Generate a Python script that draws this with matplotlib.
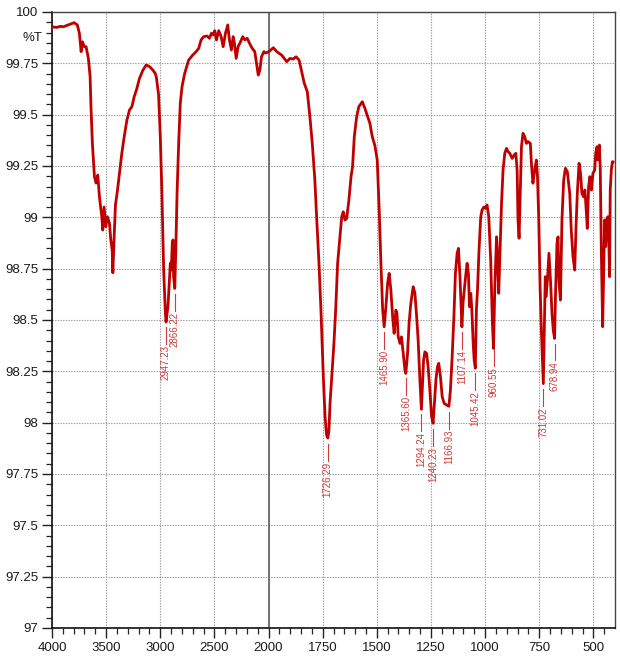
import numpy as np
import matplotlib
matplotlib.use("Agg")
import matplotlib.pyplot as plt
import matplotlib.transforms as mtransforms
from matplotlib.ticker import FixedLocator, FixedFormatter

# ---------------- data ----------------
wavenumber = [
    4000, 3956, 3925, 3895, 3860, 3833, 3796, 3766, 3747, 3731, 3719, 3701, 3685, 3664,
    3648, 3639, 3627, 3608, 3593, 3577, 3562, 3540, 3531, 3519, 3503, 3488, 3469, 3457,
    3444, 3438, 3426, 3414, 3395, 3377, 3355, 3333, 3308, 3284, 3262, 3241, 3216, 3192,
    3160, 3130, 3099, 3068, 3046, 3037, 3016, 3000, 2984, 2969, 2954, 2947, 2929, 2917,
    2907, 2898, 2889, 2882, 2877, 2866, 2855, 2845, 2830, 2815, 2799, 2775, 2738, 2701,
    2669, 2645, 2623, 2599, 2568, 2546, 2528, 2512, 2497, 2481, 2460, 2438, 2419, 2398,
    2377, 2361, 2343, 2327, 2315, 2299, 2281, 2259, 2238, 2219, 2197, 2176, 2151, 2127,
    2111, 2095, 2080, 2065, 2043, 2028, 1998, 1978, 1962, 1939, 1916, 1901, 1886, 1873,
    1859, 1847, 1835, 1821, 1809, 1798, 1786, 1778, 1767, 1758, 1747, 1739, 1732, 1726,
    1721, 1716, 1708, 1698, 1690, 1681, 1670, 1662, 1655, 1647, 1639, 1629, 1619, 1612,
    1604, 1593, 1583, 1567, 1555, 1542, 1532, 1521, 1509, 1498, 1489, 1481, 1473, 1466,
    1458, 1450, 1443, 1435, 1427, 1420, 1412, 1407, 1401, 1393, 1386, 1378, 1370, 1366,
    1358, 1351, 1343, 1332, 1324, 1316, 1309, 1301, 1294, 1290, 1284, 1278, 1270, 1263,
    1255, 1247, 1240, 1235, 1227, 1220, 1214, 1206, 1198, 1189, 1178, 1167, 1160, 1152,
    1144, 1137, 1129, 1123, 1116, 1107, 1102, 1096, 1090, 1083, 1077, 1072, 1066, 1061,
    1055, 1050, 1045, 1040, 1035, 1028, 1020, 1014, 1006, 998, 991, 983, 974, 966,
    961, 955, 947, 943, 937, 931, 924, 917, 909, 901, 894, 886, 875, 866,
    858, 852, 848, 843, 839, 832, 825, 817, 809, 802, 791, 786, 779, 771,
    763, 758, 752, 746, 740, 735, 731, 727, 722, 719, 712, 705, 698, 691,
    685, 679, 675, 668, 663, 659, 652, 645, 637, 629, 620, 609, 602, 594,
    586, 580, 574, 566, 559, 553, 545, 539, 532, 528, 522, 516, 509, 502,
    494, 489, 483, 479, 472, 468, 463, 457, 452, 448, 443, 439, 433, 428,
    425, 422, 417, 412, 409,
]
transmittance = [
    99.928, 99.925, 99.930, 99.928, 99.935, 99.940, 99.948, 99.937, 99.896, 99.807, 99.855, 99.831, 99.831, 99.774,
    99.685, 99.523, 99.360, 99.198, 99.167, 99.206, 99.100, 99.003, 98.938, 99.050, 98.954, 99.003, 98.970, 98.890,
    98.840, 98.730, 98.905, 99.060, 99.133, 99.214, 99.312, 99.393, 99.474, 99.523, 99.539, 99.587, 99.628, 99.677,
    99.717, 99.742, 99.734, 99.717, 99.700, 99.685, 99.600, 99.400, 99.100, 98.750, 98.548, 98.490, 98.565, 98.680,
    98.777, 98.743, 98.874, 98.890, 98.711, 98.654, 98.874, 99.117, 99.360, 99.556, 99.636, 99.700, 99.766, 99.790,
    99.807, 99.823, 99.864, 99.880, 99.883, 99.872, 99.896, 99.888, 99.909, 99.864, 99.909, 99.880, 99.831, 99.896,
    99.937, 99.864, 99.815, 99.880, 99.848, 99.774, 99.831, 99.855, 99.880, 99.864, 99.872, 99.848, 99.823, 99.807,
    99.750, 99.693, 99.717, 99.782, 99.807, 99.800, 99.807, 99.826, 99.807, 99.790, 99.758, 99.774, 99.771, 99.782,
    99.766, 99.709, 99.653, 99.612, 99.490, 99.360, 99.180, 99.003, 98.776, 98.548, 98.224, 98.029, 97.940, 97.925,
    97.964, 98.094, 98.224, 98.386, 98.548, 98.776, 98.905, 99.003, 99.027, 98.987, 98.995, 99.084, 99.198, 99.247,
    99.393, 99.490, 99.539, 99.563, 99.531, 99.490, 99.458, 99.393, 99.350, 99.280, 99.035, 98.776, 98.550, 98.467,
    98.565, 98.680, 98.727, 98.646, 98.516, 98.435, 98.548, 98.532, 98.418, 98.386, 98.418, 98.337, 98.256, 98.240,
    98.337, 98.484, 98.581, 98.662, 98.630, 98.516, 98.400, 98.208, 98.065, 98.159, 98.305, 98.345, 98.337, 98.272,
    98.159, 98.029, 97.997, 98.078, 98.208, 98.272, 98.289, 98.224, 98.126, 98.094, 98.086, 98.080, 98.159, 98.321,
    98.516, 98.727, 98.825, 98.849, 98.711, 98.467, 98.581, 98.646, 98.711, 98.776, 98.727, 98.565, 98.630, 98.548,
    98.386, 98.300, 98.265, 98.550, 98.646, 98.840, 99.003, 99.035, 99.050, 99.044, 99.060, 99.003, 98.790, 98.480,
    98.362, 98.662, 98.905, 98.825, 98.630, 98.825, 99.068, 99.230, 99.312, 99.336, 99.320, 99.312, 99.287, 99.303,
    99.312, 99.230, 98.987, 98.898, 99.068, 99.344, 99.409, 99.393, 99.360, 99.369, 99.360, 99.263, 99.166, 99.230,
    99.279, 99.198, 98.987, 98.662, 98.450, 98.300, 98.190, 98.420, 98.711, 98.613, 98.695, 98.825, 98.695, 98.532,
    98.450, 98.410, 98.613, 98.873, 98.905, 98.695, 98.597, 98.987, 99.182, 99.239, 99.222, 99.117, 98.938, 98.808,
    98.743, 98.954, 99.117, 99.263, 99.214, 99.117, 99.100, 99.133, 99.020, 98.946, 99.149, 99.198, 99.133, 99.214,
    99.230, 99.312, 99.344, 99.279, 99.352, 99.230, 98.825, 98.467, 98.743, 98.987, 98.857, 98.987, 99.003, 98.857,
    98.711, 99.133, 99.230, 99.271, 99.270,
]

peak_wavenumbers = [2947.23, 2866.22, 1726.29, 1465.90, 1365.60, 1294.24, 1240.23,
                    1166.93, 1107.14, 1045.42, 960.55, 731.02, 678.94]
peak_labels = ["2947.23", "2866.22", "1726.29", "1465.90", "1365.60", "1294.24", "1240.23",
               "1166.93", "1107.14", "1045.42", "960.55", "731.02", "678.94"]

x_major_ticks = [4000, 3500, 3000, 2500, 2000, 1750, 1500, 1250, 1000, 750, 500]
x_tick_labels = ["4000", "3500", "3000", "2500", "2000", "1750", "1500", "1250", "1000", "750", "500"]
y_major_ticks = [97, 97.25, 97.5, 97.75, 98, 98.25, 98.5, 98.75, 99, 99.25, 99.5, 99.75, 100]
y_tick_labels = ["97", "97.25", "97.5", "97.75", "98", "98.25", "98.5", "98.75", "99", "99.25", "99.5", "99.75", "100"]
y_axis_label = "%T"

# ---------------- styling ----------------
LINE_COLOR = "#C00000"
LABEL_COLOR = "#D03A3A"
TICK_FONT = ["Liberation Sans Narrow", "Liberation Sans", "DejaVu Sans"]


def fwd(x):
    x = np.asarray(x, dtype=float)
    return np.where(x >= 2000, x, 2 * x - 2000)


def inv(u):
    u = np.asarray(u, dtype=float)
    return np.where(u >= 2000, u, (u + 2000) / 2)


fig = plt.figure(figsize=(6.2, 6.61), dpi=100)
ax = fig.add_axes([52 / 620, 33 / 661, 563 / 620, 616 / 661])
ax.set_xscale("function", functions=(fwd, inv))
ax.set_xlim(4000, 400)
ax.set_ylim(97, 100)

ax.xaxis.set_major_locator(FixedLocator(x_major_ticks))
ax.xaxis.set_major_formatter(FixedFormatter(x_tick_labels))
x_minor = list(range(3900, 2000, -100)) + list(range(1950, 400, -50))
ax.xaxis.set_minor_locator(FixedLocator(x_minor))
ax.yaxis.set_major_locator(FixedLocator(y_major_ticks))
ax.yaxis.set_major_formatter(FixedFormatter(y_tick_labels))
ax.yaxis.set_minor_locator(FixedLocator(list(np.arange(97.05, 100.0, 0.05))))

ax.tick_params(axis="both", which="major", direction="out", length=7, width=1.0,
               color="#222222", labelsize=9.5, pad=3)
ax.tick_params(axis="both", which="minor", direction="out", length=4.5, width=0.9, color="#222222")
for lab in ax.get_xticklabels() + ax.get_yticklabels():
    lab.set_family(TICK_FONT)
    lab.set_color("#1a1a1a")

ax.grid(True, which="major", linestyle=(0, (1.2, 1.2)), color="#9a9a9a", linewidth=0.8)
ax.set_axisbelow(True)
ax.axvline(2000, color="#555555", linewidth=1.1, zorder=1)

for side in ["left", "bottom"]:
    ax.spines[side].set_color("#111111")
    ax.spines[side].set_linewidth(1.2)
for side in ["top", "right"]:
    ax.spines[side].set_color("#444444")
    ax.spines[side].set_linewidth(1.0)

ax.plot(wavenumber, transmittance, color=LINE_COLOR, linewidth=2.0, zorder=3,
        solid_joinstyle="round")

# peak annotations
wn_asc = np.array(wavenumber[::-1], dtype=float)
t_asc = np.array(transmittance[::-1], dtype=float)
for pw, lab in zip(peak_wavenumbers, peak_labels):
    pt = float(np.interp(pw, wn_asc, t_asc))
    y0 = pt - 0.028
    y1 = pt - 0.110
    ax.plot([pw, pw], [y0, y1], color=LABEL_COLOR, linewidth=0.8, zorder=4)
    ax.text(pw, y1 - 0.005, lab, rotation=90, ha="center", va="top", fontsize=7,
            color=LABEL_COLOR, family=["Liberation Sans", "DejaVu Sans"], zorder=4)

trans = mtransforms.blended_transform_factory(ax.transAxes, ax.transData)
ax.text(-0.017, 99.873, y_axis_label, transform=trans, ha="right", va="center",
        fontsize=9.5, family=TICK_FONT, color="#1a1a1a")

fig.savefig("out.png", dpi=100)
